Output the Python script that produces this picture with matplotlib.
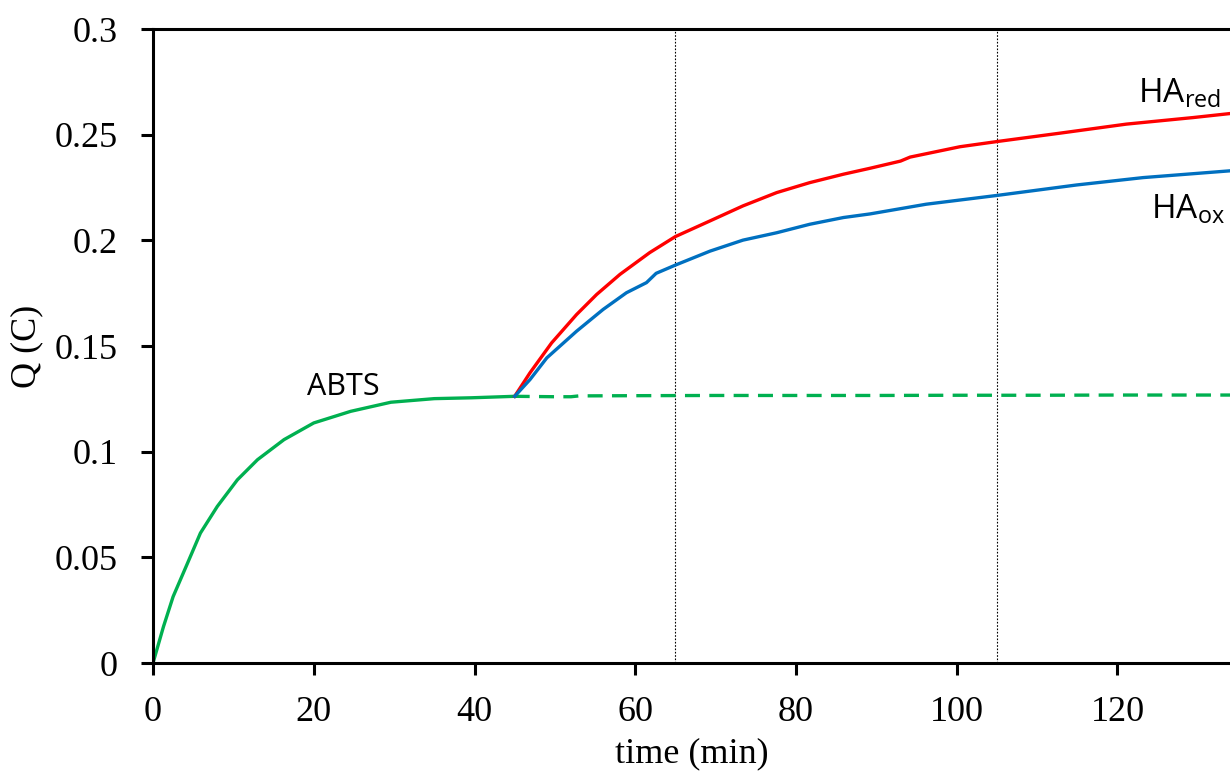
import numpy as np
import matplotlib
matplotlib.use("Agg")
import matplotlib.pyplot as plt

# ABTS charge curve (solid green up to 45 min)
abts_t = [0, 1.3, 2.5, 4.2, 5.9, 8.0, 10.5, 13.0, 16.3, 20.0, 24.6, 29.6, 35.0, 39.6, 45.0]
abts_q = [0, 0.0172, 0.0314, 0.0464, 0.0615, 0.0741, 0.0867, 0.0962, 0.1057,
          0.1136, 0.1191, 0.1234, 0.1251, 0.1255, 0.1262]

# ABTS baseline continued (dashed)
base_t = [45, 50, 52, 53, 60, 70, 80, 90, 100, 110, 120, 134]
base_q = [0.1262, 0.1260, 0.1260, 0.1264, 0.1265, 0.1266, 0.1266, 0.1266, 0.1267, 0.1267, 0.1268, 0.1268]

# HA reduced
red_t = [45.0, 46.9, 49.6, 52.7, 55.2, 58.1, 61.8, 65.0, 69.3, 73.4, 77.6, 81.7, 85.9,
         89.2, 93.0, 94.2, 100.4, 105.1, 112.8, 121.1, 129.4, 134.0]
red_q = [0.1262, 0.1373, 0.1515, 0.1649, 0.1744, 0.1839, 0.1942, 0.2018, 0.2092, 0.2163,
         0.2226, 0.2273, 0.2313, 0.2341, 0.2375, 0.2394, 0.2443, 0.2468, 0.2507, 0.2550, 0.2581, 0.2600]

# HA oxidised
ox_t = [45.0, 46.9, 49.0, 52.7, 56.0, 58.9, 61.4, 62.6, 65.0, 69.3, 73.4, 77.6, 81.7,
        85.9, 89.2, 96.2, 105.1, 114.9, 123.2, 134.0]
ox_q = [0.1262, 0.1341, 0.1444, 0.1570, 0.1673, 0.1752, 0.1800, 0.1844, 0.1883, 0.1949,
        0.2001, 0.2036, 0.2076, 0.2108, 0.2125, 0.2171, 0.2213, 0.2262, 0.2297, 0.2329]

marker_lines = [65, 105]

plt.rcParams["mathtext.default"] = "regular"

fig = plt.figure(figsize=(12.3, 7.74), dpi=100)
ax = fig.add_axes([0.1244, 0.1434, 0.8756, 0.8191])

for xv in marker_lines:
    ax.axvline(xv, color="black", linestyle=(0, (1.5, 1.5)), linewidth=0.8)

ax.plot(abts_t, abts_q, color="#00B050", linewidth=2.4)
ax.plot(base_t, base_q, color="#00B050", linewidth=2.4, dashes=(4.5, 2.8), dash_capstyle="butt")
ax.plot(red_t, red_q, color="#FF0000", linewidth=2.4)
ax.plot(ox_t, ox_q, color="#0070C0", linewidth=2.4)

sans = ["Open Sans", "DejaVu Sans"]
ax.text(19.1, 0.127, "ABTS", fontsize=22, family=sans, ha="left", va="baseline")
ax.text(122.6, 0.2652, "HA$_{red}$", fontsize=24, family=sans, ha="left", va="baseline")
ax.text(124.2, 0.2105, "HA$_{ox}$", fontsize=24, family=sans, ha="left", va="baseline")

ax.set_xlim(0, 134)
ax.set_ylim(0, 0.3)
ax.set_xticks([0, 20, 40, 60, 80, 100, 120])
ax.set_yticks([0, 0.05, 0.1, 0.15, 0.2, 0.25, 0.3])
ax.set_yticklabels(["0", "0.05", "0.1", "0.15", "0.2", "0.25", "0.3"])

for side in ["left", "bottom", "top"]:
    ax.spines[side].set_linewidth(2.2)
ax.spines["right"].set_visible(False)
ax.tick_params(direction="out", length=8.5, width=2.2, labelsize=26)
ax.tick_params(axis="y", pad=17)
ax.tick_params(axis="x", pad=15)
for lab in ax.get_xticklabels() + ax.get_yticklabels():
    lab.set_family("Liberation Serif")

ax.set_xlabel("time (min)", family="Liberation Serif", fontsize=26, labelpad=6)
ax.set_ylabel("Q (C)", family="Liberation Serif", fontsize=26, labelpad=8)

fig.savefig("out.png", dpi=100)
